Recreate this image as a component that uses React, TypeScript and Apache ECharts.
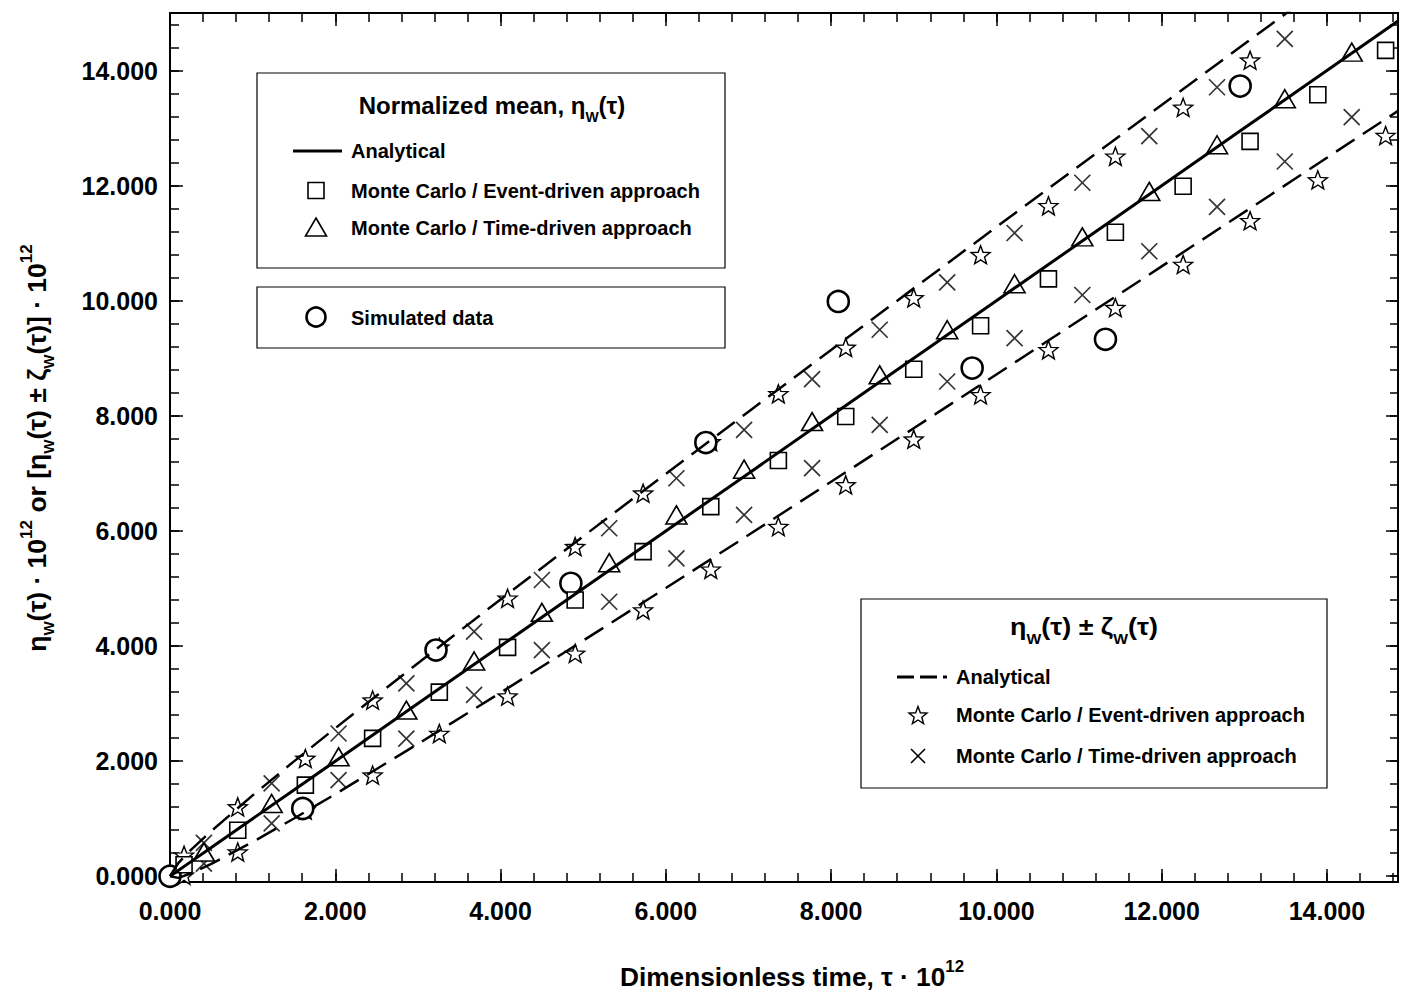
import React, { useEffect, useRef } from 'react';
import * as echarts from 'echarts';

// ---------- data ----------
// Monte Carlo / Event-driven approach (squares = mean, stars = mean ± std)
const eventTime = [0.17, 0.82, 1.638, 2.452, 3.259, 4.085, 4.903, 5.725, 6.544, 7.362, 8.177, 9.0, 9.809, 10.63, 11.44, 12.26, 13.07, 13.89, 14.71];
const eventMean = [0.2, 0.8, 1.583, 2.395, 3.2, 3.977, 4.8, 5.64, 6.423, 7.223, 7.988, 8.81, 9.565, 10.38, 11.19, 11.99, 12.77, 13.58, 14.35];
const eventUpper = [0.365, 1.205, 2.047, 3.06, 3.98, 4.83, 5.727, 6.656, 7.55, 8.383, 9.188, 10.05, 10.8, 11.65, 12.51, 13.36, 14.18];
const eventLower = [0.017, 0.42, 1.15, 1.757, 2.48, 3.13, 3.873, 4.626, 5.334, 6.075, 6.8, 7.594, 8.365, 9.148, 9.88, 10.63, 11.39, 12.1, 12.87];

// Monte Carlo / Time-driven approach (triangles = mean, crosses = mean ± std)
const timeTime = [0.41, 1.23, 2.04, 2.86, 3.68, 4.5, 5.315, 6.128, 6.947, 7.77, 8.588, 9.405, 10.22, 11.04, 11.85, 12.67, 13.49, 14.3];
const timeMean = [0.42, 1.264, 2.075, 2.887, 3.74, 4.586, 5.449, 6.278, 7.073, 7.9, 8.713, 9.496, 10.296, 11.11, 11.9, 12.71, 13.51, 14.32];
const timeUpper = [0.58, 1.612, 2.48, 3.35, 4.25, 5.148, 6.047, 6.916, 7.757, 8.638, 9.496, 10.318, 11.177, 12.05, 12.86, 13.71, 14.55];
const timeLower = [0.22, 0.917, 1.67, 2.39, 3.15, 3.93, 4.77, 5.525, 6.278, 7.09, 7.843, 8.597, 9.35, 10.1, 10.86, 11.63, 12.42, 13.19];

// Simulated data (circles)
const simTime = [0, 1.606, 3.219, 4.851, 6.484, 8.087, 9.707, 11.32, 12.95];
const simValue = [0, 1.177, 3.93, 5.09, 7.536, 9.988, 8.83, 9.33, 13.73];

// Analytical curves
const curveTime = [0, 0.1, 0.25, 0.5, 1, 1.5, 2, 3, 4, 5, 6, 7, 8, 9, 10, 11, 12, 13, 13.6, 14, 14.86];
const meanCurve = [0, 0.1, 0.25, 0.5, 1, 1.5, 2, 3, 4, 5, 6, 7, 8, 9, 10, 11, 12, 13, 13.6, 14, 14.86];
const upperCurve = [0, 0.228, 0.453, 0.786, 1.405, 1.996, 2.573, 3.702, 4.81, 5.906, 6.992, 8.072, 9.146, 10.215, 11.281, 12.343, 13.403, 14.46, 15.094, 15.515, 16.42];
const lowerCurve = [0, -0.028, 0.048, 0.214, 0.595, 1.004, 1.427, 2.299, 3.19, 4.094, 5.008, 5.929, 6.855, 7.785, 8.719, 9.657, 10.597, 11.54, 12.106, 12.485, 13.299];

// axes
const xMin = 0;
const xMax = 14.86;
const yMin = -0.1;
const yMax = 15;
const majorStep = 2;
const minorStep = 0.4;

// ---------- styling ----------
const FONT = "'Liberation Sans', Arial, Helvetica, sans-serif";
const STAR = 'path://M50,0L62.34,33.01L97.55,34.55L69.97,56.49L79.39,90.45L50,71L20.61,90.45L30.03,56.49L2.45,34.55L37.66,33.01Z';
const CROSS = 'path://M0,0L100,100M100,0L0,100';

const pairs = (xs: number[], ys: number[]) => ys.map((y, i) => [xs[i], y]);
const hollow = (w: number) => ({ color: '#fff', borderColor: '#000', borderWidth: w, opacity: 1 });
const fmt = (v: number) => (Math.abs(v / majorStep - Math.round(v / majorStep)) < 1e-6 ? v.toFixed(3) : '');

const starPts = (cx: number, cy: number, R: number, r: number) => {
  const pts: number[][] = [];
  for (let i = 0; i < 10; i++) {
    const a = (Math.PI / 5) * i;
    const rad = i % 2 === 0 ? R : r;
    pts.push([cx + rad * Math.sin(a), cy - rad * Math.cos(a)]);
  }
  return pts;
};

const rich = (main: number, sub = 14, sup = 16) => ({
  m: { fontSize: main, fontWeight: 'bold', fontFamily: FONT, fill: '#000', lineHeight: 38 },
  sub: { fontSize: sub, fontWeight: 'bold', fontFamily: FONT, fill: '#000', lineHeight: 18, verticalAlign: 'bottom' },
  sup: { fontSize: sup, fontWeight: 'bold', fontFamily: FONT, fill: '#000', lineHeight: sup, verticalAlign: 'top' },
});

const plainText = (x: number, y: number, text: string, size = 20) => ({
  type: 'text',
  x,
  y,
  style: { text, fill: '#000', fontSize: size, fontWeight: 'bold', fontFamily: FONT, align: 'left', verticalAlign: 'middle' },
});

const tickAxisX = (position: string, interval: number, len: number, labels: boolean, line: boolean) => ({
  type: 'value',
  gridIndex: 0,
  position,
  min: xMin,
  max: xMax,
  interval,
  axisLine: { show: line, onZero: false, lineStyle: { color: '#000', width: 2 } },
  axisTick: { show: true, inside: true, length: len, lineStyle: { color: '#000', width: 1.5 } },
  axisLabel: {
    show: labels,
    margin: 16,
    formatter: fmt,
    color: '#000',
    fontSize: 25,
    fontWeight: 'bold',
    fontFamily: FONT,
  },
  splitLine: { show: false },
});

const tickAxisY = (position: string, interval: number, len: number, labels: boolean) => ({
  type: 'value',
  gridIndex: 1,
  position,
  min: 0,
  max: yMax,
  interval,
  axisLine: { show: false, onZero: false },
  axisTick: { show: true, inside: true, length: len, lineStyle: { color: '#000', width: 1.5 } },
  axisLabel: {
    show: labels,
    margin: 12,
    formatter: fmt,
    color: '#000',
    fontSize: 25,
    fontWeight: 'bold',
    fontFamily: FONT,
  },
  splitLine: { show: false },
});

const frameY = (position: string) => ({
  type: 'value',
  gridIndex: 0,
  position,
  min: yMin,
  max: yMax,
  axisLine: { show: true, onZero: false, lineStyle: { color: '#000', width: 2 } },
  axisTick: { show: false },
  axisLabel: { show: false },
  splitLine: { show: false },
});

export default function App() {
  const ref = useRef<HTMLDivElement>(null);

  useEffect(() => {
    if (!ref.current) return;
    const chart = echarts.init(ref.current, null, { renderer: 'svg' });

    const option: any = {
      animation: false,
      backgroundColor: '#fff',
      grid: [
        { left: 170, top: 13, width: 1229, height: 869 },
        { left: 170, top: 13, width: 1229, height: 863 },
      ],
      xAxis: [
        tickAxisX('bottom', majorStep, 13, true, true),
        tickAxisX('bottom', minorStep, 9, false, false),
        tickAxisX('top', majorStep, 13, false, true),
        tickAxisX('top', minorStep, 9, false, false),
        { type: 'value', gridIndex: 1, min: xMin, max: xMax, show: false },
      ],
      yAxis: [
        frameY('left'),
        frameY('right'),
        tickAxisY('left', majorStep, 13, true),
        tickAxisY('left', minorStep, 9, false),
        tickAxisY('right', majorStep, 13, false),
        tickAxisY('right', minorStep, 9, false),
      ],
      series: [
        {
          type: 'scatter', name: 'Event-driven ± (upper)', xAxisIndex: 0, yAxisIndex: 0,
          data: pairs(eventTime, eventUpper), symbol: STAR, symbolSize: [19, 18], itemStyle: hollow(1.4), silent: true,
        },
        {
          type: 'scatter', name: 'Event-driven ± (lower)', xAxisIndex: 0, yAxisIndex: 0,
          data: pairs(eventTime, eventLower), symbol: STAR, symbolSize: [19, 18], itemStyle: hollow(1.4), silent: true,
        },
        {
          type: 'scatter', name: 'Time-driven ± (upper)', xAxisIndex: 0, yAxisIndex: 0,
          data: pairs(timeTime, timeUpper), symbol: CROSS, symbolSize: [16, 16],
          itemStyle: { color: 'rgba(0,0,0,0)', borderColor: '#000', borderWidth: 1.7 }, silent: true,
        },
        {
          type: 'scatter', name: 'Time-driven ± (lower)', xAxisIndex: 0, yAxisIndex: 0,
          data: pairs(timeTime, timeLower), symbol: CROSS, symbolSize: [16, 16],
          itemStyle: { color: 'rgba(0,0,0,0)', borderColor: '#000', borderWidth: 1.7 }, silent: true,
        },
        {
          type: 'line', name: 'Analytical upper', xAxisIndex: 0, yAxisIndex: 0,
          data: pairs(curveTime, upperCurve), symbol: 'none', showSymbol: false, silent: true,
          lineStyle: { color: '#000', width: 2.5, type: [22, 10] },
        },
        {
          type: 'line', name: 'Analytical lower', xAxisIndex: 0, yAxisIndex: 0,
          data: pairs(curveTime, lowerCurve), symbol: 'none', showSymbol: false, silent: true,
          lineStyle: { color: '#000', width: 2.5, type: [22, 10] },
        },
        {
          type: 'scatter', name: 'Simulated data', xAxisIndex: 0, yAxisIndex: 0,
          data: pairs(simTime, simValue), symbol: 'circle', symbolSize: 21, itemStyle: hollow(2.6), silent: true,
        },
        {
          type: 'line', name: 'Analytical mean', xAxisIndex: 0, yAxisIndex: 0,
          data: pairs(curveTime, meanCurve), symbol: 'none', showSymbol: false, silent: true,
          lineStyle: { color: '#000', width: 3, type: 'solid' },
        },
        {
          type: 'scatter', name: 'Event-driven mean', xAxisIndex: 0, yAxisIndex: 0,
          data: pairs(eventTime, eventMean), symbol: 'rect', symbolSize: 16, itemStyle: hollow(1.6), silent: true,
        },
        {
          type: 'scatter', name: 'Time-driven mean', xAxisIndex: 0, yAxisIndex: 0,
          data: pairs(timeTime, timeMean), symbol: 'triangle', symbolSize: [21, 18], itemStyle: hollow(1.6), silent: true,
        },
      ],
      graphic: [
        // axis titles
        {
          type: 'text', x: 792, y: 977, scaleX: 1.05,
          style: { text: '{m|Dimensionless time, τ · 10}{sup|12}', rich: rich(25), align: 'center', verticalAlign: 'middle' },
        },
        {
          type: 'text', x: 37, y: 448, rotation: Math.PI / 2,
          style: {
            text: '{m|η}{sub|W}{m|(τ) · 10}{sup|12}{m| or [η}{sub|W}{m|(τ) ± ζ}{sub|W}{m|(τ)] · 10}{sup|12}',
            rich: rich(26.5, 15, 17), align: 'center', verticalAlign: 'middle',
          },
        },
        // legend box 1
        { type: 'rect', shape: { x: 257, y: 73, width: 468, height: 195 }, style: { fill: '#fff', stroke: '#000', lineWidth: 1.2 } },
        {
          type: 'text', x: 492, y: 105,
          style: { text: '{m|Normalized mean, η}{sub|W}{m|(τ)}', rich: rich(24), align: 'center', verticalAlign: 'middle' },
        },
        { type: 'line', shape: { x1: 293, y1: 151, x2: 342, y2: 151 }, style: { stroke: '#000', lineWidth: 3 } },
        plainText(351, 151, 'Analytical'),
        { type: 'rect', shape: { x: 308, y: 182.5, width: 16, height: 16 }, style: { fill: '#fff', stroke: '#000', lineWidth: 1.6 } },
        plainText(351, 191, 'Monte Carlo / Event-driven approach'),
        { type: 'polygon', shape: { points: [[316, 218], [326.5, 236], [305.5, 236]] }, style: { fill: '#fff', stroke: '#000', lineWidth: 1.6 } },
        plainText(351, 228, 'Monte Carlo / Time-driven approach'),
        // legend box 2
        { type: 'rect', shape: { x: 257, y: 287, width: 468, height: 61 }, style: { fill: '#fff', stroke: '#000', lineWidth: 1.2 } },
        { type: 'circle', shape: { cx: 316, cy: 317, r: 9.5 }, style: { fill: '#fff', stroke: '#000', lineWidth: 2.6 } },
        plainText(351, 318, 'Simulated data'),
        // legend box 3
        { type: 'rect', shape: { x: 861, y: 599, width: 466, height: 189 }, style: { fill: '#fff', stroke: '#000', lineWidth: 1.2 } },
        {
          type: 'text', x: 1084, y: 627, scaleX: 1.12,
          style: { text: '{m|η}{sub|W}{m|(τ) ± ζ}{sub|W}{m|(τ)}', rich: rich(24), align: 'center', verticalAlign: 'middle' },
        },
        { type: 'line', shape: { x1: 897, y1: 677, x2: 947, y2: 677 }, style: { stroke: '#000', lineWidth: 3, lineDash: [17, 6] } },
        plainText(956, 677, 'Analytical'),
        { type: 'polygon', shape: { points: starPts(918, 716, 9.5, 4) }, style: { fill: '#fff', stroke: '#000', lineWidth: 1.4 } },
        plainText(956, 715, 'Monte Carlo / Event-driven approach'),
        { type: 'line', shape: { x1: 911, y1: 749, x2: 925, y2: 763 }, style: { stroke: '#000', lineWidth: 1.6 } },
        { type: 'line', shape: { x1: 925, y1: 749, x2: 911, y2: 763 }, style: { stroke: '#000', lineWidth: 1.6 } },
        plainText(956, 756, 'Monte Carlo / Time-driven approach'),
      ],
    };

    chart.setOption(option);
    return () => chart.dispose();
  }, []);

  return (
    <div
      ref={ref}
      style={{ position: 'absolute', left: 0, top: 0, width: 1401, height: 990, background: '#fff' }}
    />
  );
}
